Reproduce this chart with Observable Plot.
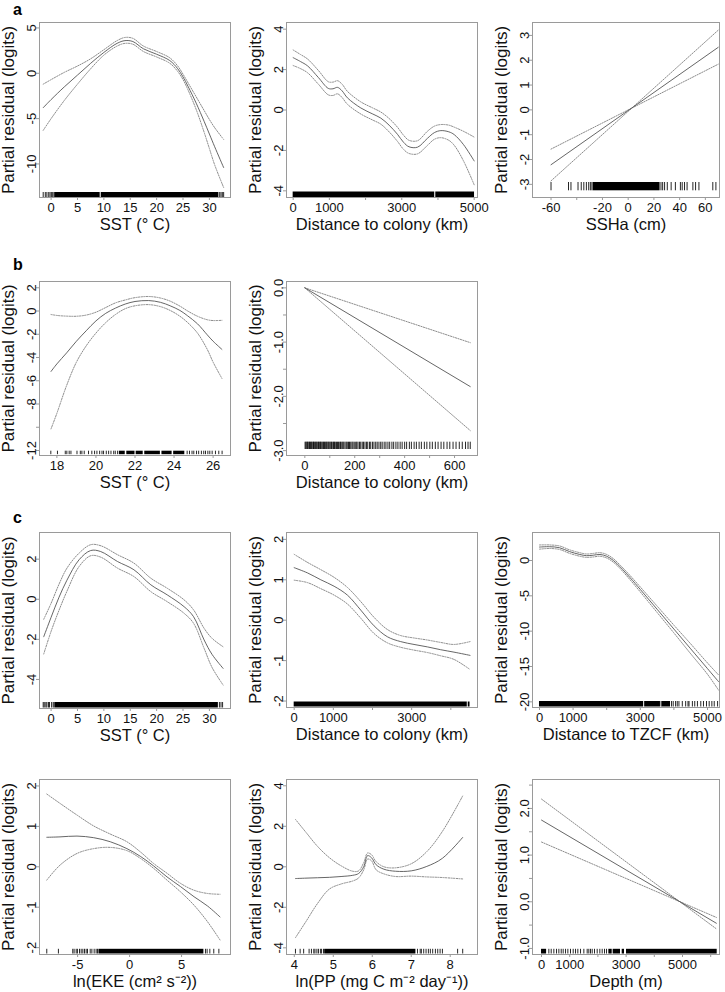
<!DOCTYPE html>
<html><head><meta charset="utf-8">
<script src="https://cdn.jsdelivr.net/npm/d3@7"></script>
<script src="https://cdn.jsdelivr.net/npm/@observablehq/plot@0.6"></script>
<style>
body{margin:0;background:#fff;}
#root{position:relative;width:725px;height:992px;overflow:hidden;font-family:"Liberation Sans",Arial,sans-serif;}
.letter{position:absolute;font-weight:bold;font-size:16px;line-height:11px;height:11px;color:#000;}
</style></head><body><div id="root"></div>
<script>
// ---------- DATA ----------
// a1: SST
const a1X     = [-1.5, 0, 2.5, 5, 7.5, 10, 12.5, 14, 15.5, 17.5, 20, 22.5, 24, 25, 26, 27.5, 29, 30, 31, 32.7];
const a1Fit   = [-3.8, -2.9, -1.5, -0.2, 1.1, 2.3, 3.3, 3.6, 3.5, 2.7, 2.1, 1.4, 0.5, -0.4, -1.5, -3.3, -5.3, -6.7, -8.1, -10.4];
const a1Upper = [-1.2, -0.7, 0.1, 0.8, 1.6, 2.6, 3.6, 3.95, 3.85, 3.0, 2.4, 1.7, 0.8, -0.1, -1.1, -2.6, -4.1, -5.1, -6.0, -7.3];
const a1Lower = [-6.3, -5.0, -3.0, -1.2, 0.5, 2.0, 3.0, 3.3, 3.2, 2.4, 1.8, 1.1, 0.2, -0.7, -1.9, -4.0, -6.5, -8.3, -10.1, -12.6];
const a1RugTicks = [-1.5, -1.1, -0.8, -0.45, -0.2, 0.05, 0.3, 0.55, 31.95, 32.2, 32.45, 32.7];
const a1RugBands = [[0.7, 9.3], [9.5, 31.8]];
const a1XTicks = [0, 5, 10, 15, 20, 25, 30];
const a1YTicks = [-10, -5, 0, 5];

// a2: Distance to colony
const a2X     = [0, 200, 400, 700, 970, 1100, 1225, 1350, 1500, 1870, 2200, 2420, 2650, 2880, 3050, 3200, 3435, 3710, 3900, 4080, 4300, 4450, 4700, 5000];
const a2Fit   = [2.59, 2.4, 2.18, 1.6, 1.07, 1.05, 1.12, 0.95, 0.6, 0.1, -0.2, -0.4, -0.75, -1.2, -1.6, -1.82, -1.84, -1.4, -1.12, -1.02, -1.08, -1.22, -1.7, -2.52];
const a2Upper = [2.97, 2.75, 2.52, 1.95, 1.4, 1.38, 1.45, 1.28, 0.92, 0.4, 0.1, -0.1, -0.42, -0.85, -1.25, -1.5, -1.52, -1.05, -0.8, -0.72, -0.75, -0.85, -1.05, -1.34];
const a2Lower = [2.2, 2.05, 1.84, 1.27, 0.75, 0.72, 0.8, 0.62, 0.28, -0.2, -0.5, -0.7, -1.08, -1.55, -1.95, -2.15, -2.17, -1.75, -1.45, -1.37, -1.5, -1.75, -2.5, -3.7];
const a2RugTicks = [];
const a2RugBands = [[0, 3910], [3940, 5010]];
const a2XTicks = [0, 1000, 2000, 3000, 4000, 5000];
const a2XLabels = [0, 1000, 3000, 5000];
const a2YTicks = [-4, -2, 0, 2, 4];

// a3: SSHa (linear term)
const a3X     = [-60, 70];
const a3Fit   = [-2.21, 2.52];
const a3Upper = [-1.58, 1.84];
const a3Lower = [-2.86, 3.21];
const a3RugTicks = [-60, -46.4, -44.5, -39, -36.5, -34.5, -32.5, -30.7, -29.4, -28.2, 25.5, 26.8, 28.3, 30.4, 33.4, 36.7, 40.6, 42, 43.8, 45.8, 50.3, 52.4, 55, 65.8, 68.2];
const a3RugBands = [[-27.2, 24.8]];
const a3XTicks = [-60, -40, -20, 0, 20, 40, 60];
const a3XLabels = [-60, -20, 0, 20, 40, 60];
const a3YTicks = [-3, -2, -1, 0, 1, 2, 3];

// b1: SST
const b1X     = [17.7, 18.0, 18.5, 19.0, 19.5, 20.0, 20.5, 21.0, 21.5, 22.0, 22.7, 23.3, 23.8, 24.3, 24.7, 25.2, 25.7, 26.0, 26.45];
const b1Fit   = [-5.2, -4.55, -3.6, -2.6, -1.7, -0.85, -0.2, 0.25, 0.6, 0.82, 0.9, 0.75, 0.45, 0.05, -0.42, -1.1, -2.05, -2.6, -3.3];
const b1Upper = [-0.3, -0.38, -0.44, -0.45, -0.35, -0.1, 0.3, 0.7, 0.95, 1.15, 1.25, 1.12, 0.85, 0.42, 0.0, -0.45, -0.75, -0.82, -0.8];
const b1Lower = [-10.14, -8.8, -6.4, -4.4, -3.0, -1.9, -1.0, -0.3, 0.2, 0.45, 0.55, 0.38, 0.05, -0.45, -1.0, -1.9, -3.3, -4.4, -5.8];
const b1RugTicks = [17.69, 18.03, 18.43, 18.51, 18.63, 18.72, 19.03, 19.2, 19.28, 19.4, 19.62, 19.79, 19.93, 20.05, 20.19, 20.31, 20.39, 20.53, 20.65, 20.77, 20.91, 20.99, 21.11, 24.67, 24.79, 24.92, 25.01, 25.15, 25.26, 25.4, 25.52, 25.61, 25.73, 25.83, 25.95, 26.12, 26.29, 26.46];
const b1RugBands = [[21.2, 21.5], [21.58, 22.0], [22.06, 22.42], [22.5, 23.3], [23.38, 23.9], [23.98, 24.55]];
const b1XTicks = [18, 20, 22, 24, 26];
const b1YTicks = [-12, -10, -8, -6, -4, -2, 0, 2];
const b1YLabels = [-12, -8, -6, -4, -2, 0, 2];

// b2: Distance to colony (linear term)
const b2X     = [0, 663];
const b2Fit   = [0, -1.82];
const b2Upper = [0, -1.01];
const b2Lower = [0, -2.63];
const b2RugTicks = [1, 4, 8, 10, 13, 17, 19, 23, 26, 29, 33, 35, 38, 42, 45, 48, 52, 55, 58, 62, 64, 68, 72, 75, 79, 82, 86, 89, 93, 96, 100, 104, 107, 112, 115, 119, 122, 127, 131, 135, 140, 143, 148, 152, 156, 161, 166, 170, 175, 179, 184, 189, 193, 198, 204, 208, 213, 219, 224, 230, 235, 241, 247, 252, 259, 264, 271, 277, 284, 290, 297, 304, 310, 318, 325, 333, 340, 349, 356, 365, 373, 382, 390, 400, 408, 419, 427, 438, 447, 458, 467, 479, 489, 501, 511, 523, 534, 546, 557, 570, 581, 594, 606, 619, 631, 644, 654, 663];
const b2RugBands = [];
const b2XTicks = [0, 100, 200, 300, 400, 500, 600];
const b2XLabels = [0, 200, 400, 600];
const b2YTicks = [-3, -2.5, -2, -1.5, -1, -0.5, 0];
const b2YLabels = [-3, -2, -1, 0];

// c1: SST
const c1X     = [-1.4, 0, 1.5, 3, 5.3, 7.5, 9.4, 12.6, 15.7, 18.9, 22, 25.2, 27, 29, 30.5, 32.6];
const c1Fit   = [-1.87, -0.9, 0.1, 0.95, 1.97, 2.43, 2.38, 1.88, 1.47, 0.72, 0.22, -0.37, -0.87, -2.03, -2.75, -3.45];
const c1Upper = [-1.0, -0.2, 0.75, 1.55, 2.3, 2.72, 2.67, 2.22, 1.8, 1.05, 0.55, -0.03, -0.53, -1.45, -1.95, -2.37];
const c1Lower = [-2.73, -1.6, -0.55, 0.4, 1.63, 2.17, 2.1, 1.55, 1.13, 0.38, -0.12, -0.7, -1.2, -2.45, -3.4, -4.28];
const c1RugTicks = [-1.5, -1.3, -1.0, -0.8, -0.5, -0.3, 0.1, 0.4, 0.6, 31.9, 32.2, 32.5];
const c1RugBands = [[0.8, 31.7]];
const c1XTicks = [0, 5, 10, 15, 20, 25, 30];
const c1YTicks = [-4, -2, 0, 2];

// c2: Distance to colony
const c2X     = [0, 340, 680, 1020, 1360, 1700, 2040, 2380, 2720, 3060, 3400, 3740, 4080, 4490];
const c2Fit   = [1.3, 1.17, 1.0, 0.84, 0.62, 0.25, -0.14, -0.41, -0.53, -0.6, -0.66, -0.73, -0.79, -0.87];
const c2Upper = [1.63, 1.43, 1.25, 1.06, 0.81, 0.46, 0.07, -0.23, -0.38, -0.44, -0.49, -0.55, -0.6, -0.53];
const c2Lower = [0.99, 0.93, 0.78, 0.62, 0.4, 0.05, -0.33, -0.56, -0.67, -0.74, -0.8, -0.88, -0.97, -1.22];
const c2RugTicks = [];
const c2RugBands = [[0, 4420], [4445, 4490]];
const c2XTicks = [0, 1000, 2000, 3000, 4000];
const c2XLabels = [0, 1000, 3000];
const c2YTicks = [-2, -1, 0, 1, 2];

// c3: Distance to TZCF
const c3X     = [0, 300, 600, 900, 1200, 1400, 1600, 1800, 2000, 2200, 2400, 2700, 3000, 3500, 4000, 4500, 5000, 5330];
const c3Fit   = [1.9, 1.95, 1.8, 1.25, 0.85, 0.68, 0.75, 0.85, 0.6, 0.0, -0.9, -2.45, -4.1, -6.9, -9.7, -12.5, -15.3, -17.15];
const c3Upper = [2.2, 2.2, 2.05, 1.5, 1.1, 0.92, 1.0, 1.1, 0.85, 0.25, -0.65, -2.15, -3.75, -6.45, -9.15, -11.8, -14.5, -16.2];
const c3Lower = [1.6, 1.7, 1.55, 1.0, 0.6, 0.44, 0.5, 0.6, 0.35, -0.25, -1.15, -2.75, -4.45, -7.35, -10.25, -13.2, -16.1, -18.35];
const c3RugTicks = [3620, 3930, 3980, 4050, 4100, 4150, 4250, 4350, 4420, 4450, 4550, 4620, 4700, 4800, 4880, 4970, 5050, 5130, 5200, 5300];
const c3RugBands = [[0, 3100], [3130, 3600], [3650, 3900]];
const c3XTicks = [0, 1000, 2000, 3000, 4000, 5000];
const c3XLabels = [0, 1000, 3000, 5000];
const c3YTicks = [-20, -15, -10, -5, 0];

// c4: ln(EKE)
const c4X     = [-7.97, -6.7, -5.06, -3.45, -1.86, -0.26, 1.03, 2.32, 3.6, 4.9, 6.2, 7.5, 8.7];
const c4Fit   = [0.73, 0.74, 0.76, 0.72, 0.62, 0.45, 0.26, 0.02, -0.25, -0.49, -0.74, -0.97, -1.24];
const c4Upper = [1.8, 1.57, 1.28, 1.01, 0.81, 0.62, 0.37, 0.08, -0.16, -0.41, -0.58, -0.66, -0.68];
const c4Lower = [-0.33, 0.04, 0.33, 0.45, 0.48, 0.4, 0.21, -0.04, -0.33, -0.62, -0.95, -1.36, -1.81];
const c4RugTicks = [-7.97, -6.85, -5.47, -5.34, -5.14, -5.02, -4.82, -4.66, -4.5, -4.34, -4.18, -4.05, -3.79, -3.63, -3.41, -3.22, -3.09, 7.3, 7.46, 7.72, 8.1, 8.59];
const c4RugBands = [[-2.95, 7.15]];
const c4XTicks = [-5, 0, 5];
const c4YTicks = [-2, -1, 0, 1, 2];

// c5: ln(PP)
const c5X     = [4.03, 4.3, 4.6, 4.9, 5.2, 5.5, 5.65, 5.78, 5.88, 5.98, 6.1, 6.3, 6.6, 7.0, 7.4, 7.8, 8.32];
const c5Fit   = [-0.58, -0.56, -0.54, -0.52, -0.48, -0.42, -0.33, 0.0, 0.55, 0.45, 0.1, -0.12, -0.22, -0.2, 0.02, 0.42, 1.45];
const c5Upper = [2.34, 1.7, 1.0, 0.45, 0.05, -0.22, -0.2, 0.2, 0.68, 0.6, 0.25, 0.0, -0.05, 0.15, 0.75, 1.75, 3.5];
const c5Lower = [-3.5, -2.7, -1.8, -1.1, -0.85, -0.7, -0.55, -0.15, 0.38, 0.3, -0.15, -0.35, -0.48, -0.46, -0.5, -0.53, -0.6];
const c5RugTicks = [4.03, 4.15, 4.24, 4.38, 4.44, 4.5, 4.53, 4.58, 4.62, 4.67, 4.7, 4.75, 7.16, 7.23, 7.26, 7.32, 7.38, 7.44, 7.49, 7.55, 7.62, 7.68, 7.74, 7.8, 8.19, 8.32];
const c5RugBands = [[4.78, 7.12]];
const c5XTicks = [4, 5, 6, 7, 8];
const c5YTicks = [-4, -2, 0, 2, 4];

// c6: Depth (linear term)
const c6X     = [0, 6200];
const c6Fit   = [1.75, -0.46];
const c6Upper = [2.2, -0.58];
const c6Lower = [1.28, -0.335];
const c6RugTicks = [260, 343, 437, 532, 615, 698, 768, 851, 934, 1028, 1123, 1206, 1288, 1383, 1501, 1619, 1678, 1738, 1797, 1879, 1974, 2068, 2151, 2234, 2305];
const c6RugBands = [[0, 180], [2388, 2506], [2541, 2801], [2861, 2943], [3014, 6230]];
const c6XTicks = [0, 1000, 2000, 3000, 4000, 5000, 6000];
const c6XLabels = [0, 1000, 3000, 5000];
const c6YTicks = [-1, -0.5, 0, 0.5, 1, 1.5, 2, 2.5];
const c6YLabels = [-1, 0, 1, 2];

const yTitle = "Partial residual (logits)";
const letters = ["a", "b", "c"];

// ---------- LAYOUT ----------
const FONT = '"Liberation Sans", Arial, Helvetica, sans-serif';
const int = d => String(d);
const one = d => d.toFixed(1);
const smooth = "catmull-rom";

const panels = [
  {frame: [39, 22, 230, 197], xd: [-2.2, 34.0], yd: [-13.7, 5.6], x: a1X, fit: a1Fit, up: a1Upper, lo: a1Lower, curve: smooth,
   rugT: a1RugTicks, rugB: a1RugBands, rugBottom: 0, rugH: 5, xt: a1XTicks, xl: a1XTicks, yt: a1YTicks, yl: a1YTicks, yf: int, title: "SST (° C)"},
  {frame: [286, 22, 477, 197], xd: [-184, 5092], yd: [-4.33, 4.33], x: a2X, fit: a2Fit, up: a2Upper, lo: a2Lower, curve: smooth,
   rugT: a2RugTicks, rugB: a2RugBands, rugBottom: 0, rugH: 5.5, xt: a2XTicks, xl: a2XLabels, yt: a2YTicks, yl: a2YTicks, yf: int, title: "Distance to colony (km)"},
  {frame: [532, 22, 719, 197], xd: [-74.4, 71.0], yd: [-3.53, 3.52], x: a3X, fit: a3Fit, up: a3Upper, lo: a3Lower, curve: "linear",
   rugT: a3RugTicks, rugB: a3RugBands, rugBottom: 6.7, rugH: 8.3, xt: a3XTicks, xl: a3XLabels, yt: a3YTicks, yl: a3YTicks, yf: int, title: "SSHa (cm)"},
  {frame: [39, 281, 230, 455], xd: [17.11, 26.89], yd: [-12.43, 2.54], x: b1X, fit: b1Fit, up: b1Upper, lo: b1Lower, curve: smooth,
   rugT: b1RugTicks, rugB: b1RugBands, rugBottom: 0.8, rugH: 3.5, xt: b1XTicks, xl: b1XTicks, yt: b1YTicks, yl: b1YLabels, yf: int, title: "SST (° C)"},
  {frame: [286, 281, 477, 455], xd: [-73.5, 692], yd: [-3.09, 0.117], x: b2X, fit: b2Fit, up: b2Upper, lo: b2Lower, curve: "linear",
   rugT: b2RugTicks, rugB: b2RugBands, rugBottom: 6, rugH: 7.3, xt: b2XTicks, xl: b2XLabels, yt: b2YTicks, yl: b2YLabels, yf: one, title: "Distance to colony (km)"},
  {frame: [39, 532, 230, 708], xd: [-2.2, 34.0], yd: [-5.45, 3.33], x: c1X, fit: c1Fit, up: c1Upper, lo: c1Lower, curve: smooth,
   rugT: c1RugTicks, rugB: c1RugBands, rugBottom: 0.5, rugH: 5.5, xt: c1XTicks, xl: c1XTicks, yt: c1YTicks, yl: c1YTicks, yf: int, title: "SST (° C)"},
  {frame: [286, 532, 477, 707], xd: [-196, 4681], yd: [-2.16, 2.17], x: c2X, fit: c2Fit, up: c2Upper, lo: c2Lower, curve: smooth,
   rugT: c2RugTicks, rugB: c2RugBands, rugBottom: 0.5, rugH: 5, xt: c2XTicks, xl: c2XLabels, yt: c2YTicks, yl: c2YTicks, yf: int, title: "Distance to colony (km)"},
  {frame: [532, 532, 719, 707], xd: [-208, 5357], yd: [-20.8, 3.96], x: c3X, fit: c3Fit, up: c3Upper, lo: c3Lower, curve: smooth,
   rugT: c3RugTicks, rugB: c3RugBands, rugBottom: 0.5, rugH: 5.5, xt: c3XTicks, xl: c3XLabels, yt: c3YTicks, yl: c3YTicks, yf: int, title: "Distance to TZCF (km)"},
  {frame: [39, 779, 230, 954], xd: [-8.67, 9.71], yd: [-2.17, 2.16], x: c4X, fit: c4Fit, up: c4Upper, lo: c4Lower, curve: smooth,
   rugT: c4RugTicks, rugB: c4RugBands, rugBottom: 0.5, rugH: 4.7, xt: c4XTicks, xl: c4XTicks, yt: c4YTicks, yl: c4YTicks, yf: int, title: "ln(EKE (cm² s⁻²))"},
  {frame: [286, 779, 477, 954], xd: [3.8, 8.7], yd: [-4.33, 4.31], x: c5X, fit: c5Fit, up: c5Upper, lo: c5Lower, curve: smooth,
   rugT: c5RugTicks, rugB: c5RugBands, rugBottom: 0.5, rugH: 4.7, xt: c5XTicks, xl: c5XTicks, yt: c5YTicks, yl: c5YTicks, yf: int, title: "ln(PP (mg C m⁻² day⁻¹))"},
  {frame: [532, 779, 719, 954], xd: [-320, 6312], yd: [-1.13, 2.62], x: c6X, fit: c6Fit, up: c6Upper, lo: c6Lower, curve: "linear",
   rugT: c6RugTicks, rugB: c6RugBands, rugBottom: 0.5, rugH: 4.7, xt: c6XTicks, xl: c6XLabels, yt: c6YTicks, yl: c6YLabels, yf: one, title: "Depth (m)"}
];
const letterPos = [[13, 4], [13, 259], [13, 512]];

const root = document.getElementById("root");
const mL = 39, mT = 22, mR = 6, mB = 38;

for (const p of panels) {
  const [fx0, fy0, fx1, fy1] = p.frame;
  const fw = fx1 - fx0, fh = fy1 - fy0;
  const rows = p.x.map((x, i) => ({x, fit: p.fit[i], up: p.up[i], lo: p.lo[i]}));
  const insetTop = fh - p.rugBottom - p.rugH;
  const yMid = (p.yd[0] + p.yd[1]) / 2;
  const ci = {x: "x", stroke: "#8c8c8c", strokeWidth: 1, strokeDasharray: "1.3,1.3", curve: p.curve};
  const svg = Plot.plot({
    width: fw + mL + mR, height: fh + mT + mB,
    marginLeft: mL, marginRight: mR, marginTop: mT, marginBottom: mB,
    x: {domain: p.xd, label: null},
    y: {domain: p.yd, label: null},
    style: {fontFamily: FONT, background: "transparent", color: "#111", overflow: "visible"},
    marks: [
      Plot.rect(p.rugB, {x1: d => d[0], x2: d => d[1], insetTop, insetBottom: p.rugBottom, fill: "#000"}),
      Plot.tickX(p.rugT, {x: d => d, insetTop, insetBottom: p.rugBottom, stroke: "#000", strokeWidth: 1, strokeOpacity: 0.85}),
      Plot.line(rows, {...ci, y: "up"}),
      Plot.line(rows, {...ci, y: "lo"}),
      Plot.line(rows, {x: "x", y: "fit", stroke: "#555", strokeWidth: 0.9, curve: p.curve}),
      Plot.frame({stroke: "#9a9a9a"}),
      Plot.axisX(p.xt, {tickSize: 3, tickPadding: 2, stroke: "#9a9a9a", fill: "#111", fontSize: 13, label: null,
        tickFormat: d => p.xl.includes(d) ? int(d) : ""}),
      Plot.axisY(p.yt, {tickSize: 3, tickPadding: 1, tickRotate: -90, stroke: "#9a9a9a", fill: "#111", fontSize: 13, label: null,
        tickFormat: d => p.yl.includes(d) ? p.yf(d) : ""}),
      Plot.text([p.title], {text: d => d, frameAnchor: "bottom", dy: 27, fontSize: 16.5, textAnchor: "middle", lineAnchor: "middle", fill: "#111"}),
      Plot.text([yTitle], {text: d => d, y: () => yMid, frameAnchor: "left", dx: -31, rotate: -90, fontSize: 17, textAnchor: "middle", lineAnchor: "middle", fill: "#111"})
    ]
  });
  svg.style.position = "absolute";
  svg.style.left = (fx0 - mL) + "px";
  svg.style.top = (fy0 - mT) + "px";
  root.appendChild(svg);
}

letters.forEach((t, i) => {
  const d = document.createElement("div");
  d.className = "letter";
  d.textContent = t;
  d.style.left = letterPos[i][0] + "px";
  d.style.top = letterPos[i][1] + "px";
  root.appendChild(d);
});
</script></body></html>
